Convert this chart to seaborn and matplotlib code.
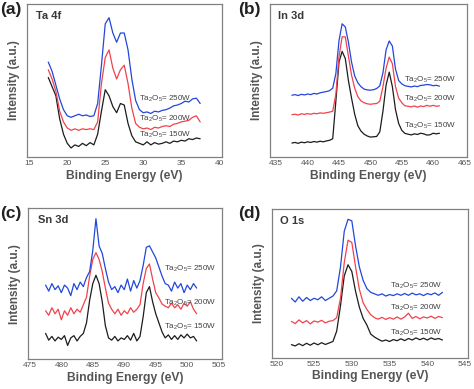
import matplotlib
matplotlib.use("Agg")
import matplotlib.pyplot as plt
from matplotlib.ticker import MultipleLocator
import seaborn as sns
import pandas as pd

# ---------------- data (intensity in a.u.) ----------------
series_labels = ["150W", "200W", "250W"]
series_colors = ["#1c1c1c", "#f0424c", "#2346dc"]

# (a) Ta 4f
ta4f_x = [17.5, 18.0, 18.5, 19.0, 19.5, 20.0, 20.5, 21.0, 21.5, 22.0, 22.5, 23.0, 23.5, 24.0,
          24.5, 25.0, 25.5, 26.0, 26.5, 27.0, 27.5, 28.0, 28.5, 29.0, 29.5, 30.0, 30.5, 31.0,
          31.5, 32.0, 32.5, 33.0, 33.5, 34.0, 34.5, 35.0, 35.5, 36.0, 36.5, 37.0, 37.5]
ta4f_150 = [52, 46, 40, 25, 15, 9, 6, 8, 7, 9, 7.5, 9.5, 8, 15, 30, 44, 40, 33, 29, 35, 34, 22,
            14, 10, 9, 8, 10, 8, 9.5, 8.5, 9, 10, 9, 10.5, 10, 11, 10.5, 12, 11.5, 12.5, 12]
ta4f_200 = [57, 51, 43, 30, 23, 19, 17.5, 18.5, 17.5, 18.5, 18, 18.5, 18, 23, 48, 65, 70, 58, 51,
            57, 60, 48, 32, 22, 19.5, 18.5, 19, 18, 19.5, 19, 20, 20.5, 20, 21.5, 22, 23, 23.5,
            24, 26, 27, 23]
ta4f_250 = [62, 56, 47, 38, 31, 27, 26, 27, 28, 27, 27.5, 26.5, 27, 35, 60, 87, 91, 81, 75, 81,
            81, 70, 51, 37, 31, 29, 29.5, 28.5, 30, 29.5, 30.5, 31, 32, 33.5, 34, 35, 36.5, 36,
            38, 38.5, 35]

# (b) In 3d
in3d_x = [437.5, 438.0, 438.5, 439.0, 439.5, 440.0, 440.5, 441.0, 441.5, 442.0, 442.5, 443.0,
          443.5, 444.0, 444.5, 445.0, 445.5, 446.0, 446.5, 447.0, 447.5, 448.0, 448.5, 449.0,
          449.5, 450.0, 450.5, 451.0, 451.5, 452.0, 452.5, 453.0, 453.5, 454.0, 454.5, 455.0,
          455.5, 456.0, 456.5, 457.0, 457.5, 458.0, 458.5, 459.0, 459.5, 460.0, 460.5, 461.0]
in3d_150 = [9.2, 9.6, 9.0, 9.8, 9.4, 10.0, 9.6, 10.2, 9.8, 10.4, 10.0, 10.6, 11.0, 12.0, 36.5,
            62, 69, 64.4, 50, 38.5, 28, 20.5, 17, 15, 13.8, 13.1, 13.3, 13.5, 16.5, 30, 47,
            55.5, 46, 31, 22, 17.5, 15.5, 15, 14.5, 15.2, 14.8, 15.6, 15.2, 14.4, 14.6, 15.6,
            15.2, 15.6]
in3d_200 = [27.7, 28.0, 27.5, 28.3, 27.9, 28.4, 28.0, 28.6, 28.3, 28.9, 28.6, 29.0, 29.4, 30,
            41, 65.5, 78.5, 78.5, 66, 53.5, 45, 39.5, 36.7, 35.5, 34.8, 34.5, 34.8, 35, 36.5,
            46, 58, 65.3, 61, 46, 38.5, 35.5, 33.5, 33.2, 32.8, 33.4, 32.6, 33.4, 33, 33.8,
            33.2, 33.8, 33.2, 33.5]
in3d_250 = [40.4, 40.8, 40.2, 41.0, 40.6, 41.2, 40.8, 41.6, 41.2, 42.0, 42.4, 42.8, 43.4, 45,
            54.5, 76, 87, 85, 75, 62, 53, 48.5, 46, 44.4, 43.9, 43.7, 44, 44.8, 46.5, 55, 70,
            75.8, 72.5, 57.5, 50, 47.8, 46.6, 46.2, 45.8, 46.4, 46, 46.8, 47, 47.4, 47.2, 46.6,
            46.9, 46.3]

# (c) Sn 3d
sn3d_x = [477.5, 478.0, 478.5, 479.0, 479.5, 480.0, 480.5, 481.0, 481.5, 482.0, 482.5, 483.0,
          483.5, 484.0, 484.5, 485.0, 485.5, 486.0, 486.5, 487.0, 487.5, 488.0, 488.5, 489.0,
          489.5, 490.0, 490.5, 491.0, 491.5, 492.0, 492.5, 493.0, 493.5, 494.0, 494.5, 495.0,
          495.5, 496.0, 496.5, 497.0, 497.5, 498.0, 498.5, 499.0, 499.5, 500.0, 500.5, 501.0,
          501.5]
sn3d_150 = [17, 12.5, 15, 12, 14.5, 13, 15.5, 9, 14, 15.5, 12, 15, 17, 24, 39, 50, 55.5, 50, 38,
            22, 14, 12.5, 15, 12, 14, 13, 15.5, 12.5, 17, 12, 15, 28, 44, 48, 38, 30, 24, 18,
            14, 16, 13, 15.5, 13, 16, 14, 16.5, 14, 15, 12]
sn3d_200 = [32, 29, 34, 30, 33, 26, 32, 29, 34, 30, 33, 31, 36, 41, 55, 66, 70.5, 66, 58, 47, 37,
            33, 30, 33, 29, 32, 30, 34, 31, 33, 36, 50, 60, 63, 53, 44, 40.5, 36.5, 35, 34, 37,
            34, 36, 33, 37, 35, 38, 33, 30]
sn3d_250 = [49, 45, 50, 46, 48.5, 44, 49, 47, 42, 50, 46, 51, 48, 54, 58, 72, 93, 75, 70, 60, 51,
            46, 48, 44, 49, 46, 53, 45, 52, 47, 52, 62, 74, 75, 71, 67, 61, 55, 50, 49, 45, 51,
            47, 50, 44, 49, 46, 50, 47]

# (d) O 1s
o1s_x = [522.0, 522.5, 523.0, 523.5, 524.0, 524.5, 525.0, 525.5, 526.0, 526.5, 527.0, 527.5,
         528.0, 528.5, 529.0, 529.5, 530.0, 530.5, 531.0, 531.5, 532.0, 532.5, 533.0, 533.5,
         534.0, 534.5, 535.0, 535.5, 536.0, 536.5, 537.0, 537.5, 538.0, 538.5, 539.0, 539.5,
         540.0, 540.5, 541.0, 541.5, 542.0]
o1s_150 = [8.9, 8.0, 9.5, 8.2, 9.8, 8.5, 10, 8.8, 10.2, 9, 10, 11, 18, 35, 55, 62.5, 58, 44.6,
           34, 26.5, 22, 16, 14, 12.5, 11.2, 12, 11, 12.3, 11.5, 12.8, 11.6, 13, 12, 13.4, 12.2,
           13.2, 12, 13.4, 12.4, 13, 12]
o1s_200 = [24.5, 23, 25.5, 23.5, 25, 22.8, 24.8, 24, 25.2, 23.5, 24.6, 25, 27, 40, 64, 79, 77.5,
           61, 46, 37, 32.5, 29, 27, 26, 27.2, 25.8, 27, 26, 27.5, 26, 27.5, 30, 26.5, 27.8,
           26.2, 27.5, 26.8, 28, 26.5, 27.8, 27]
o1s_250 = [40, 37.5, 41, 38, 40.5, 38.5, 40, 39, 41, 38.5, 40, 41.5, 45, 61, 85, 93, 92, 75, 61,
           52, 46.5, 44, 43, 42, 43, 41.5, 42.5, 41.8, 43, 42, 43.2, 42, 43.5, 42.3, 43, 41.8,
           43.2, 42.4, 43.6, 42, 44]

panels = [
    dict(letter="(a)", title="Ta 4f", x=ta4f_x, ys=[ta4f_150, ta4f_200, ta4f_250],
         xlim=(14.7, 40.35), major=5, minor=2.5, lab_x=29.5, lab_y=[14.2, 25.2, 37.9],
         rect=[0.057, 0.596, 0.411, 0.394], letter_xy=(0.0, 0.995), title_xy=(0.045, 0.955)),
    dict(letter="(b)", title="In 3d", x=in3d_x, ys=[in3d_150, in3d_200, in3d_250],
         xlim=(434.04, 465.37), major=5, minor=2.5, lab_x=455.3, lab_y=[20.7, 38.2, 50.2],
         rect=[0.570, 0.596, 0.415, 0.394], letter_xy=(0.503, 0.995), title_xy=(0.04, 0.955)),
    dict(letter="(c)", title="Sn 3d", x=sn3d_x, ys=[sn3d_150, sn3d_200, sn3d_250],
         xlim=(474.7, 505.5), major=5, minor=2.5, lab_x=496.3, lab_y=[21.0, 36.9, 59.7],
         rect=[0.059, 0.077, 0.409, 0.388], letter_xy=(0.0, 0.47), title_xy=(0.05, 0.955)),
    dict(letter="(d)", title="O 1s", x=o1s_x, ys=[o1s_150, o1s_200, o1s_250],
         xlim=(519.44, 545.43), major=5, minor=2.5, lab_x=535.1, lab_y=[16.7, 33.5, 48.0],
         rect=[0.574, 0.080, 0.414, 0.383], letter_xy=(0.503, 0.47), title_xy=(0.04, 0.955)),
]

# ---------------- style ----------------
sns.set_style("white")
plt.rcParams["font.family"] = ["Liberation Sans", "DejaVu Sans"]
plt.rcParams["mathtext.fontset"] = "custom"
plt.rcParams["mathtext.rm"] = "Liberation Sans"
plt.rcParams["mathtext.it"] = "Liberation Sans:italic"
plt.rcParams["mathtext.bf"] = "Liberation Sans:bold"

text_gray = "#555555"
spine_gray = "#808080"

fig = plt.figure(figsize=(4.74, 3.89), dpi=100)
fig.patch.set_facecolor("white")

for p in panels:
    ax = fig.add_axes(p["rect"])
    for lab, col, y in zip(series_labels, series_colors, p["ys"]):
        df = pd.DataFrame({"Binding Energy (eV)": p["x"], "Intensity": y})
        sns.lineplot(data=df, x="Binding Energy (eV)", y="Intensity", color=col, lw=0.9,
                     estimator=None, sort=False, ax=ax)
    for lab, yy in zip(series_labels, p["lab_y"]):
        ax.text(p["lab_x"], yy, r"Ta$_2$O$_5$= " + lab, fontsize=5.8, color="#404040",
                va="center", ha="left")
    ax.set_xlim(*p["xlim"])
    ax.set_ylim(0, 100)
    ax.set_yticks([])
    ax.xaxis.set_major_locator(MultipleLocator(p["major"]))
    ax.xaxis.set_minor_locator(MultipleLocator(p["minor"]))
    ax.tick_params(axis="x", which="major", direction="in", length=3, width=0.7,
                   color=spine_gray, labelsize=6.0, labelcolor=text_gray, pad=2)
    ax.tick_params(axis="x", which="minor", direction="in", length=2, width=0.6,
                   color=spine_gray)
    for s in ax.spines.values():
        s.set_color(spine_gray)
        s.set_linewidth(0.9)
    ax.set_xlabel("Binding Energy (eV)", fontsize=8.7, fontweight="bold", color=text_gray,
                  labelpad=2)
    ax.set_ylabel("Intensity (a.u.)", fontsize=8.5, fontweight="bold", color=text_gray,
                  labelpad=5)
    ax.text(p["title_xy"][0], p["title_xy"][1], p["title"], transform=ax.transAxes,
            fontsize=8, fontweight="bold", color="#383838", va="top", ha="left")
    fig.text(p["letter_xy"][0], p["letter_xy"][1], p["letter"], fontsize=12.5,
             fontweight="bold", color="#222222", va="top", ha="left")

fig.savefig("out.png", dpi=100, facecolor="white")
